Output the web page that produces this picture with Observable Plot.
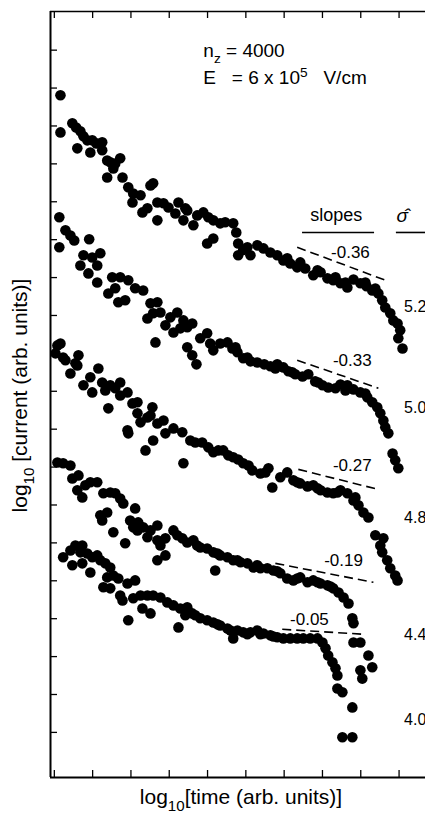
<!DOCTYPE html>
<html><head><meta charset="utf-8">
<script src="https://cdn.jsdelivr.net/npm/d3@7"></script>
<script src="https://cdn.jsdelivr.net/npm/@observablehq/plot@0.6"></script>
<style>
html,body{margin:0;padding:0;background:#fff;}
#chart{width:425px;height:816px;overflow:hidden;}
</style>
</head><body><div id="chart"></div>
<script>
// x: log10 time (one unit per tick), y: log10 current (one unit per tick)
const curve52 = [[0.16,16.81],[0.16,15.83],[0.47,16.07],[0.57,15.96],[0.68,15.86],[0.76,15.73],[0.86,15.62],[0.60,15.41],[0.94,15.30],[0.99,15.62],[1.10,15.54],[1.25,15.57],[1.25,15.36],[1.38,15.09],[1.46,15.04],[1.59,15.01],[1.72,15.15],[1.54,14.88],[1.38,14.64],[1.78,14.64],[1.93,14.38],[2.06,14.22],[2.25,14.17],[2.04,13.98],[2.51,14.43],[2.58,14.49],[2.30,13.72],[2.43,13.83],[2.69,13.98],[2.69,13.51],[2.85,13.96],[2.98,13.85],[3.16,13.69],[3.24,13.98],[3.42,13.83],[3.37,13.51],[3.47,13.77],[3.63,13.38],[3.73,13.64],[3.89,13.72],[4.02,13.59],[4.15,13.51],[4.33,13.43],[4.46,13.46],[4.67,13.43],[3.99,12.90],[4.15,13.03],[4.80,12.90],[4.80,12.59],[5.04,12.80],[5.12,12.59],[5.30,12.85],[5.46,12.77],[5.64,12.66],[5.82,12.59],[5.98,12.45],[6.16,12.37],[6.34,12.27],[6.55,12.24],[6.76,12.06],[6.95,12.14],[7.13,11.98],[7.28,11.93],[7.47,11.85],[7.65,11.74],[7.81,11.95],[7.99,11.85],[8.15,11.77],[8.30,11.66],[8.46,11.58],[8.56,11.40],[8.64,11.21],[8.77,11.06],[8.85,10.87],[8.96,10.79],[9.03,10.61],[8.98,10.40],[9.09,10.13],[4.93,12.73],[6.08,12.51],[6.42,12.40],[6.87,12.19],[7.34,12.01],[7.60,11.87],[8.12,11.87],[8.38,11.71],[4.75,13.19]];
const curve50 = [[0.13,13.59],[0.13,12.80],[0.29,13.25],[0.42,13.11],[0.52,12.98],[0.91,13.01],[0.76,12.59],[0.68,12.32],[0.99,12.53],[1.20,12.64],[1.12,12.32],[0.89,12.11],[1.12,11.87],[1.51,12.01],[1.72,12.01],[1.93,11.93],[2.11,11.72],[2.32,11.66],[1.41,11.58],[1.59,11.72],[1.67,11.35],[1.85,11.40],[2.51,11.32],[2.69,11.35],[2.43,10.92],[2.58,11.06],[2.77,11.08],[2.90,10.74],[3.03,10.95],[3.21,11.08],[3.37,10.87],[3.29,10.66],[3.47,10.69],[2.64,10.29],[3.60,10.79],[3.11,10.55],[3.47,10.16],[3.60,9.95],[3.71,9.71],[3.81,10.40],[3.99,10.53],[4.07,10.26],[4.15,10.08],[4.33,10.26],[4.52,10.29],[4.65,10.13],[4.78,10.03],[4.93,9.87],[5.12,9.79],[5.30,9.76],[5.48,9.71],[5.64,9.66],[5.82,9.71],[5.98,9.63],[6.11,9.53],[6.29,9.45],[6.48,9.39],[6.63,9.45],[6.81,9.26],[7.00,9.16],[7.15,9.10],[7.34,9.08],[7.47,9.18],[7.65,9.16],[7.81,9.05],[7.99,8.97],[8.17,8.84],[8.30,8.71],[8.43,8.58],[8.51,8.42],[8.59,8.23],[8.64,8.05],[8.72,7.89],[8.83,7.36],[8.90,7.18],[8.98,6.97],[4.73,10.16],[5.04,9.89],[5.77,9.60],[6.21,9.50],[6.89,9.23],[7.60,9.02],[8.12,8.94]];
const curve48 = [[0.08,10.21],[0.16,10.26],[0.03,10.00],[0.23,9.89],[0.29,9.82],[0.42,9.47],[0.55,9.74],[0.63,9.95],[0.60,9.68],[0.76,9.16],[0.94,9.37],[0.99,8.97],[1.15,9.60],[1.25,9.23],[1.33,9.02],[1.46,9.16],[1.59,9.08],[1.72,9.23],[1.72,8.89],[1.91,8.97],[1.41,8.55],[2.04,8.68],[2.17,8.71],[2.17,8.42],[2.25,8.18],[1.91,7.97],[1.93,7.89],[2.43,8.31],[2.51,8.36],[2.56,8.58],[2.69,8.15],[2.85,8.23],[2.90,7.89],[2.58,7.70],[2.38,7.44],[3.11,8.02],[3.34,7.92],[3.55,7.70],[3.37,7.10],[3.86,7.65],[4.02,7.52],[4.15,7.39],[4.41,7.44],[4.67,7.26],[4.80,7.20],[4.93,7.10],[5.17,6.91],[5.38,6.83],[5.59,6.97],[5.69,6.46],[5.90,6.73],[6.08,6.86],[6.24,6.65],[6.42,6.57],[6.61,6.49],[6.76,6.52],[6.95,6.39],[7.13,6.33],[7.28,6.31],[7.47,6.39],[7.65,6.31],[7.81,6.12],[7.94,5.99],[8.07,5.80],[8.20,5.67],[8.38,5.20],[8.59,5.12],[8.51,4.93],[8.56,4.75],[8.69,4.54],[8.77,4.33],[8.90,4.14],[8.96,4.01],[3.68,7.65],[4.28,7.44],[4.54,7.31],[5.07,7.04],[5.51,6.86],[6.34,6.60],[6.87,6.44],[7.39,6.33],[7.86,6.20]];
const curve44 = [[0.08,7.12],[0.23,7.10],[0.42,7.04],[0.47,6.70],[0.63,6.78],[0.60,6.39],[0.73,6.20],[0.81,6.52],[0.94,6.60],[1.12,6.60],[1.28,6.31],[1.46,6.33],[1.59,6.31],[1.72,6.17],[1.80,6.04],[1.20,5.73],[1.38,5.80],[1.25,5.59],[1.54,5.28],[1.85,4.99],[2.06,5.41],[2.11,5.91],[1.98,5.59],[2.19,5.54],[2.17,5.33],[2.32,5.41],[2.51,5.33],[2.69,5.46],[2.43,5.15],[2.69,5.07],[2.77,4.93],[2.90,5.12],[3.11,5.33],[2.90,4.67],[2.69,4.54],[3.21,5.20],[3.34,5.12],[3.47,5.01],[3.63,5.07],[3.81,4.88],[3.99,4.85],[4.15,4.75],[4.20,4.27],[4.33,4.67],[4.52,4.62],[4.67,4.54],[4.86,4.49],[5.04,4.46],[5.20,4.35],[5.38,4.33],[5.56,4.33],[5.72,4.27],[5.90,4.20],[6.08,4.06],[6.24,4.01],[6.42,4.09],[6.61,3.96],[6.76,4.01],[6.95,3.93],[7.13,3.88],[7.28,3.80],[7.42,3.69],[7.55,3.56],[7.68,3.40],[7.78,3.01],[7.81,2.88],[7.81,2.37],[7.99,2.37],[8.20,2.03],[8.30,1.72],[7.99,1.64],[8.04,1.42],[3.73,4.93],[4.26,4.72],[4.78,4.54],[5.30,4.41],[5.82,4.25],[6.34,4.06],[6.87,3.96],[7.21,3.85]];
const curve40 = [[0.23,4.62],[0.42,4.80],[0.55,4.93],[0.73,4.93],[0.68,4.75],[0.86,4.72],[0.99,4.62],[1.12,4.67],[0.47,4.41],[0.73,4.46],[0.94,4.22],[1.20,4.54],[1.33,4.46],[1.46,4.35],[1.38,4.09],[1.54,4.14],[1.67,4.06],[1.28,3.83],[1.46,3.80],[1.72,3.61],[1.91,3.93],[2.11,4.01],[1.78,3.48],[1.93,2.96],[2.06,3.54],[2.25,3.61],[2.43,3.61],[2.58,3.61],[2.77,3.56],[2.30,3.27],[2.51,3.14],[2.95,3.43],[3.11,3.35],[3.29,3.27],[3.42,3.09],[3.47,3.30],[3.24,2.77],[3.60,3.14],[3.81,3.01],[3.99,2.96],[4.15,2.90],[4.33,2.82],[4.52,2.74],[4.67,2.48],[4.78,2.69],[4.93,2.64],[5.12,2.64],[5.30,2.69],[5.46,2.61],[5.64,2.56],[5.82,2.51],[5.98,2.48],[6.16,2.48],[6.34,2.48],[6.50,2.48],[6.68,2.48],[6.87,2.48],[7.00,2.37],[7.08,2.22],[7.15,2.03],[7.26,1.85],[7.34,1.69],[7.39,1.50],[7.39,1.16],[7.52,1.06],[7.78,0.66],[7.52,-0.13],[7.78,-0.13],[3.68,3.09],[4.26,2.85],[4.60,2.69],[5.04,2.59],[5.38,2.59],[5.72,2.53]];

const sigmaHat = ["5.2","5.0","4.8","4.4","4.0"];
const sigmaLabelY = [11.24, 8.55, 5.65, 2.56, 0.32];
const slopes = ["-0.36","-0.33","-0.27","-0.19","-0.05"];
// fitted dashed segments: [x1, y1, x2, y2]
const slopeFits = [[6.34,12.80,8.72,11.90],[6.34,9.82,8.46,9.08],[6.37,6.94,8.46,6.41],[5.77,4.46,8.33,3.96],[5.95,2.72,8.07,2.59]];
const slopeLabelAt = [[7.73,12.66],[7.78,9.82],[7.78,7.04],[7.55,4.54],[6.66,2.98]];
const xTicks = [0,1,2,3,4,5,6,7,8,9];
const yTicks = [0,1,2,3,4,5,6,7,8,9,10,11,12,13,14,15,16,17,18];
const xDomain = [-0.10, 9.69];
const yDomain = [-1.19, 19.02];
const headerLines = ["n_{z} = 4000", "E\u00a0\u00a0\u00a0= 6 x 10^{5}\u00a0\u00a0\u00a0V/cm"];
const headerY = [17.97, 17.26];
const headerX = 3.89;
const xLabel = "log_{10}[time (arb. units)]";
const yLabel = "log_{10} [current (arb. units)]";

const curves = [curve52, curve50, curve48, curve44, curve40];
const points = curves.flatMap((c, i) => c.map(([x, y]) => ({x, y, sigma: sigmaHat[i]})));
const fits = slopeFits.map(([x1, y1, x2, y2], i) => ({x1, y1, x2, y2, label: slopes[i], lx: slopeLabelAt[i][0], ly: slopeLabelAt[i][1]}));
const sigmaRows = sigmaHat.map((s, i) => ({s, y: sigmaLabelY[i]}));
const headerRows = headerLines.map((t, i) => ({t, y: headerY[i]}));
const columnRules = [{x1: 6.48, x2: 8.36, y: 13.19}, {x1: 8.93, x2: 9.69, y: 13.19}];

const FONT = "'Liberation Sans', Arial, Helvetica, sans-serif";
const W = 425, H = 816, mL = 50, mR = 0, mT = 11, mB = 39;
const frameH = H - mT - mB, frameW = W - mL - mR;
const tickLen = 7;

const svg = Plot.plot({
  width: W, height: H,
  marginLeft: mL, marginRight: mR, marginTop: mT, marginBottom: mB,
  style: {background: "#fff", fontFamily: FONT, color: "#000"},
  x: {domain: xDomain, axis: null},
  y: {domain: yDomain, axis: null},
  marks: [
    Plot.ruleX([xDomain[0]], {stroke: "#000", strokeWidth: 2}),
    Plot.ruleY([yDomain[0]], {stroke: "#000", strokeWidth: 2}),
    Plot.ruleY([yDomain[1]], {stroke: "#000", strokeWidth: 1.6}),
    Plot.tickX(xTicks, {x: d => d, insetTop: frameH - tickLen, stroke: "#000", strokeWidth: 1.3}),
    Plot.tickX(xTicks, {x: d => d, insetBottom: frameH - tickLen, stroke: "#000", strokeWidth: 1.3}),
    Plot.tickY(yTicks, {y: d => d, insetRight: frameW - tickLen, stroke: "#000", strokeWidth: 1.3}),
    Plot.link(fits, {x1: "x1", y1: "y1", x2: "x2", y2: "y2", stroke: "#000", strokeWidth: 1.6, strokeDasharray: "9,5"}),
    Plot.dot(points, {x: "x", y: "y", r: 5.3, fill: "#000", stroke: "none"}),
    Plot.text(fits, {x: "lx", y: "ly", text: "label", fontSize: 17, fill: "#000", textAnchor: "middle"}),
    Plot.text(sigmaRows, {x: 9.13, y: "y", text: "s", fontSize: 16, fill: "#000", textAnchor: "start"}),
    Plot.text(["slopes"], {x: 7.36, y: 13.64, text: d => d, fontSize: 18, fill: "#000", textAnchor: "middle"}),
    Plot.text(["\u03C3\u0302"], {x: 8.93, y: 13.62, text: d => d, fontSize: 19, fontStyle: "italic", fill: "#000", textAnchor: "start"}),
    Plot.ruleY(columnRules, {y: "y", x1: "x1", x2: "x2", stroke: "#000", strokeWidth: 1.6}),
    Plot.text(headerRows, {x: headerX, y: "y", text: "t", fontSize: 19, fill: "#000", textAnchor: "start"}),
    Plot.text([xLabel], {text: d => d, frameAnchor: "bottom", textAnchor: "middle", lineAnchor: "middle", dx: 3, dy: 20, fontSize: 21, fill: "#000"}),
    Plot.text([yLabel], {text: d => d, frameAnchor: "left", textAnchor: "middle", lineAnchor: "middle", rotate: -90, dx: -30, dy: 1, fontSize: 21, fill: "#000"})
  ]
});
document.getElementById("chart").appendChild(svg);

// render _{sub} and ^{sup} markup as real tspans
d3.select(svg).selectAll("text").each(function() {
  const t = this.textContent;
  if (!/[_^]\{/.test(t)) return;
  const fs = parseFloat(getComputedStyle(this).fontSize) || 16;
  const parts = t.split(/([_^]\{[^}]*\})/).filter(s => s.length);
  const el = d3.select(this);
  el.text(null);
  let shift = 0;
  for (const p of parts) {
    let target = 0, txt = p, small = false;
    if (p.startsWith("_{")) { target = 0.32 * fs; txt = p.slice(2, -1); small = true; }
    else if (p.startsWith("^{")) { target = -0.4 * fs; txt = p.slice(2, -1); small = true; }
    const ts = el.append("tspan").attr("dy", target - shift).text(txt);
    if (small) ts.attr("font-size", (0.72 * fs) + "px");
    shift = target;
  }
});
</script>
</body></html>
